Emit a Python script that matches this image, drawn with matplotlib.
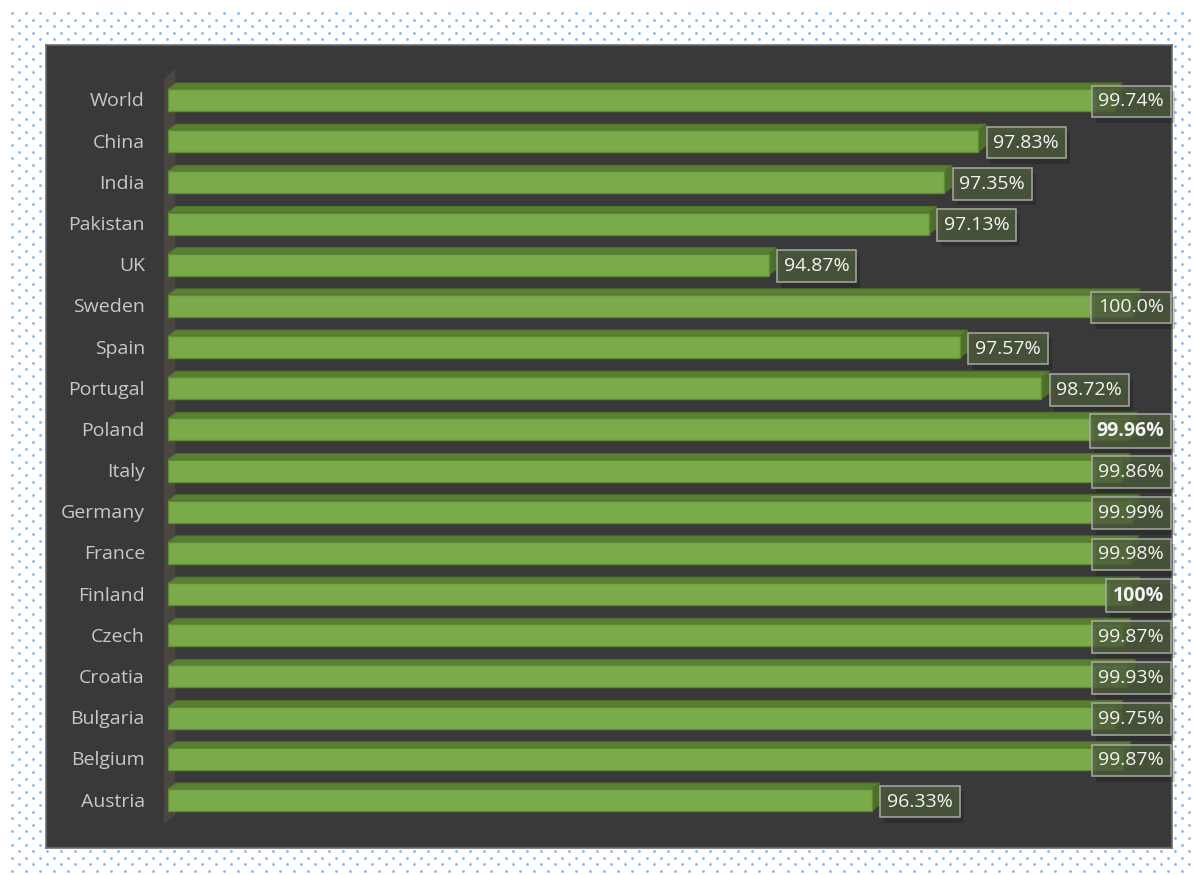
import matplotlib
matplotlib.use('Agg')
import matplotlib.pyplot as plt
import matplotlib.patheffects as pe
from matplotlib.patches import Polygon, Rectangle
import numpy as np

plt.rcParams['font.family'] = ['Open Sans', 'DejaVu Sans']

countries = ['World', 'China', 'India', 'Pakistan', 'UK', 'Sweden', 'Spain', 'Portugal',
             'Poland', 'Italy', 'Germany', 'France', 'Finland', 'Czech', 'Croatia',
             'Bulgaria', 'Belgium', 'Austria']
values = [99.74, 97.83, 97.35, 97.13, 94.87, 100.0, 97.57, 98.72, 99.96, 99.86,
          99.99, 99.98, 100.0, 99.87, 99.93, 99.75, 99.87, 96.33]
labels = ['99.74%', '97.83%', '97.35%', '97.13%', '94.87%', '100.0%', '97.57%', '98.72%',
          '99.96%', '99.86%', '99.99%', '99.98%', '100%', '99.87%', '99.93%', '99.75%',
          '99.87%', '96.33%']
bold_labels = ['Poland', 'Finland']

W, H = 1194, 875
fig = plt.figure(figsize=(W / 100, H / 100), dpi=100)
fig.patch.set_facecolor('white')

# dotted backdrop
bg = fig.add_axes([0, 0, 1, 1])
bg.set_xlim(0, W)
bg.set_ylim(H, 0)
bg.axis('off')
for k, yy in enumerate(np.arange(13, 873, 6.6)):
    xs = np.arange(12 + (7 if k % 2 else 0), 1192, 14.1)
    bg.scatter(xs, np.full_like(xs, yy), s=4, color='#86b5e6', lw=0)

# dark chart panel
pl, pr, pt, pb = 46, 1172, 45, 848
ax = fig.add_axes([pl / W, (H - pb) / H, (pr - pl) / W, (pb - pt) / H])
ax.set_facecolor('#393939')
for s in ax.spines.values():
    s.set_color('#6e6e6e')
    s.set_linewidth(1.2)
ax.set_xticks([])
ax.set_yticks([])

base = 86.4          # value where the bars start
ppu = 70.9           # pixels per percentage point
row = 41.18          # pixels per category row
base_px = 168
ax.set_xlim(base - (base_px - pl) / ppu, base + (pr - base_px) / ppu)
ax.set_ylim(17 + 48 / row, -55 / row)
ux, uy = 1 / ppu, 1 / row

dx, dy = 8 * ux, 6 * uy
half = 11 * uy
n = len(countries)

# back wall
wx = base - 4 * ux
ax.add_patch(Polygon([(wx, -0.5), (wx + 1.4 * dx, -0.5 - dy - 0.12),
                      (wx + 1.4 * dx, n - 0.5 - dy), (wx, n - 0.42)],
                     closed=True, fc='#4b4642', ec='none', zorder=1))

for i, v in enumerate(values):
    top = i - half
    ax.add_patch(Polygon([(base, top), (v, top), (v + dx, top - dy), (base + dx, top - dy)],
                         closed=True, fc='#5a7f33', ec='#4f722b', lw=0.8, zorder=2))
    ax.add_patch(Polygon([(v, top), (v + dx, top - dy), (v + dx, i + half - dy), (v, i + half)],
                         closed=True, fc='#4e6f2b', ec='none', zorder=2))
    ax.add_patch(Rectangle((base, top), v - base, 2 * half, fc='#7aaa4a',
                           ec='#5e8c33', lw=1, zorder=3))
    ax.text(base - 23 * ux, i + 1.5 * uy, countries[i], ha='right', va='center',
            fontsize=14, color='#c8c8c8', zorder=4)

texts = []
for i, v in enumerate(values):
    t = ax.text(v + 15 * ux, i + 1.5 * uy, labels[i], ha='left', va='center', fontsize=14,
                color='#f4f4f4', zorder=6,
                fontweight='bold' if countries[i] in bold_labels else 'normal',
                bbox=dict(boxstyle='square,pad=0.35', fc=(0.30, 0.36, 0.24, 0.78),
                          ec='#a9aba2', lw=1.1))
    t.get_bbox_patch().set_path_effects([
        pe.SimplePatchShadow(offset=(3, -4), shadow_rgbFace='black', alpha=0.18),
        pe.Normal()])
    texts.append(t)

# keep the value boxes inside the panel
fig.canvas.draw()
for t in texts:
    bb = t.get_bbox_patch().get_window_extent()
    over = bb.x1 - (pr - 1)
    if over > 0:
        x, y = t.get_position()
        t.set_position((x - over * ux, y))

fig.savefig('out.png', dpi=100)
